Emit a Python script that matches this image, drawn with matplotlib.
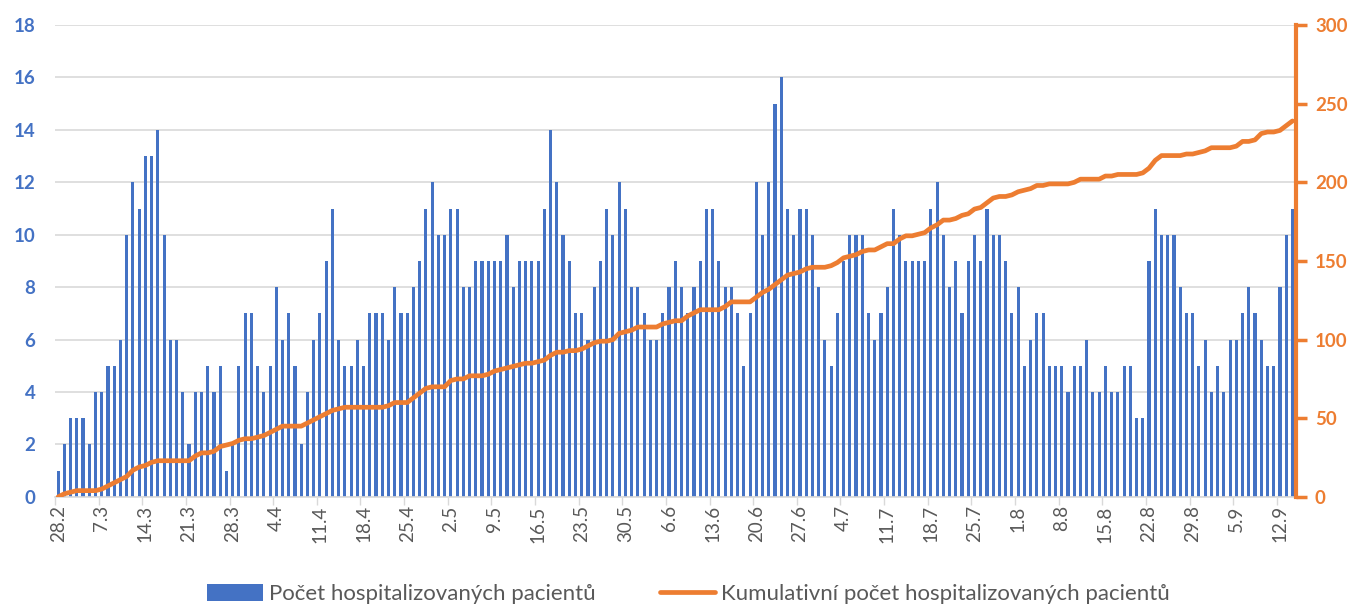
import numpy as np
import pandas as pd
import matplotlib
matplotlib.use("Agg")
import matplotlib.pyplot as plt

# daily counts of hospitalized patients
daily = [1, 2, 3, 3, 3, 2, 4, 4, 5, 5, 6, 10, 12, 11, 13, 13, 14,
         10, 6, 6, 4, 2, 4, 4, 5, 4, 5, 1, 2, 5, 7, 7, 5,
         4, 5, 8, 6, 7, 5, 2, 4, 6, 7, 9, 11, 6, 5, 5, 6,
         5, 7, 7, 7, 6, 8, 7, 7, 8, 9, 11, 12, 10, 10, 11, 11,
         8, 8, 9, 9, 9, 9, 9, 10, 8, 9, 9, 9, 9, 11, 14, 12,
         10, 9, 7, 7, 6, 8, 9, 11, 10, 12, 11, 8, 8, 7, 6, 6,
         7, 8, 9, 8, 7, 8, 9, 11, 11, 9, 8, 8, 7, 5, 7, 12,
         10, 12, 15, 16, 11, 10, 11, 11, 10, 8, 6, 5, 7, 9, 10, 10,
         10, 7, 6, 7, 8, 11, 10, 9, 9, 9, 9, 11, 12, 10, 8, 9,
         7, 9, 10, 9, 11, 10, 10, 9, 7, 8, 5, 6, 7, 7, 5, 5,
         5, 4, 5, 5, 6, 4, 4, 5, 4, 4, 5, 5, 3, 3, 9, 11,
         10, 10, 10, 8, 7, 7, 5, 6, 4, 5, 4, 6, 6, 7, 8, 7,
         6, 5, 5, 8, 10, 11]

# cumulative count (right axis)
cumulative = [0, 2, 3, 4, 4, 4, 4, 5, 7, 9, 11, 13, 17, 19, 20, 22, 23,
              23, 23, 23, 23, 23, 26, 28, 28, 29, 32, 33, 34, 36, 37, 37, 38,
              39, 41, 43, 45, 45, 45, 45, 47, 49, 51, 53, 55, 56, 57, 57, 57,
              57, 57, 57, 57, 58, 60, 60, 60, 63, 66, 69, 70, 70, 70, 74, 75,
              75, 77, 77, 77, 78, 80, 81, 82, 83, 84, 85, 85, 86, 87, 90, 92,
              92, 93, 93, 94, 96, 98, 99, 99, 100, 104, 105, 106, 108, 108, 108, 108,
              110, 111, 112, 112, 115, 117, 119, 119, 119, 119, 121, 124, 124, 124, 124, 127,
              130, 132, 135, 138, 141, 142, 143, 145, 146, 146, 146, 147, 149, 152, 153, 154,
              156, 157, 157, 159, 161, 161, 164, 166, 166, 167, 168, 171, 173, 176, 176, 177,
              179, 180, 183, 184, 187, 190, 191, 191, 192, 194, 195, 196, 198, 198, 199, 199,
              199, 199, 200, 202, 202, 202, 202, 204, 204, 205, 205, 205, 205, 206, 209, 214,
              217, 217, 217, 217, 218, 218, 219, 220, 222, 222, 222, 222, 223, 226, 226, 227,
              231, 232, 232, 233, 236, 239]

start_date = "2021-02-28"
label_bars = "Počet hospitalizovaných pacientů"
label_line = "Kumulativní počet hospitalizovaných pacientů"

BLUE = "#4472C4"
ORANGE = "#ED7D31"
GRID = "#D9D9D9"
TEXT = "#595959"

plt.rcParams['font.family'] = ['Lato', 'DejaVu Sans']

dates = pd.date_range(start_date, periods=len(daily), freq="D")
x = np.arange(len(daily))

fig = plt.figure(figsize=(13.58, 6.06), dpi=100)
ax = fig.add_axes([0.0405, 0.18, 0.9135, 0.7787])
ax2 = ax.twinx()

ax.bar(x, daily, width=0.5, color=BLUE, zorder=2, label=label_bars)
ax2.plot(x, cumulative, color=ORANGE, linewidth=3.4, solid_capstyle='round',
         solid_joinstyle='round', zorder=3, label=label_line)

ax.set_xlim(-0.5, len(daily) - 0.5)
ax.set_ylim(0, 18)
ax2.set_ylim(0, 300)
ax.set_yticks(range(0, 19, 2))
ax2.set_yticks(range(0, 301, 50))

ax.grid(axis='y', color=GRID, linewidth=1.2, zorder=0)
ax.set_axisbelow(True)

# x labels every 7 days, tick marks between categories
major = x[::7]
ax.set_xticks(major)
ax.set_xticklabels([f"{d.day}.{d.month}" for d in dates[::7]], rotation=90)
ax.set_xticks(np.arange(-0.5, len(daily), 7), minor=True)
ax.tick_params(axis='x', which='major', length=0, pad=6, labelsize=13.5, labelcolor=TEXT)
ax.tick_params(axis='x', which='minor', length=6, width=1, color=GRID)

ax.tick_params(axis='y', length=0, labelsize=13.5, labelcolor=BLUE, pad=14)
for t in ax.get_yticklabels():
    t.set_fontweight('bold')
ax2.tick_params(axis='y', length=8, width=2.5, color=ORANGE, labelsize=13.5,
                labelcolor=ORANGE, pad=6)
for t in ax2.get_yticklabels():
    t.set_fontweight('bold')

for a in (ax, ax2):
    a.spines['top'].set_visible(False)
    a.spines['left'].set_visible(False)
ax.spines['right'].set_visible(False)
ax2.spines['bottom'].set_visible(False)
ax.spines['bottom'].set_color(GRID)
ax.spines['bottom'].set_linewidth(1.2)
ax2.spines['right'].set_color(ORANGE)
ax2.spines['right'].set_linewidth(3)

h1, l1 = ax.get_legend_handles_labels()
h2, l2 = ax2.get_legend_handles_labels()
fig.legend(h1 + h2, l1 + l2, loc='lower center', bbox_to_anchor=(0.507, -0.03),
           ncol=2, frameon=False, fontsize=16, labelcolor=TEXT,
           handlelength=2.5, handleheight=0.8, handletextpad=0.25,
           columnspacing=2.9)

fig.savefig("out.png", dpi=100)
